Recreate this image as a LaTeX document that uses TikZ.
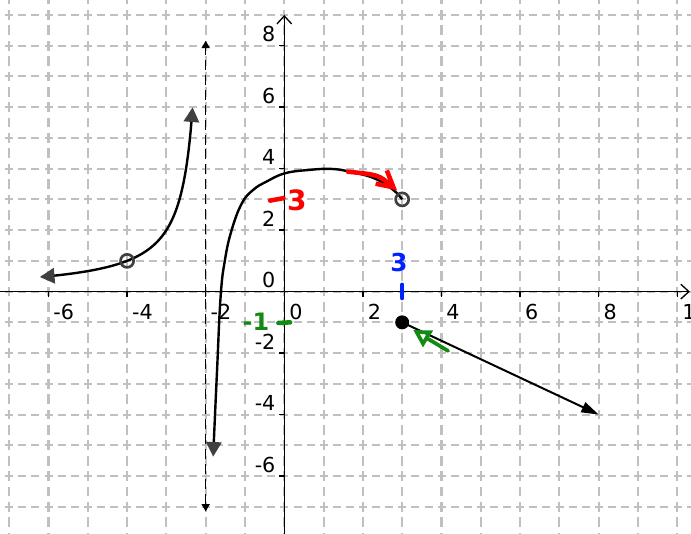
\documentclass[tikz,border=0pt]{standalone}
\usepackage{fontspec}
\setmainfont{DejaVu Sans}
\usetikzlibrary{arrows.meta}

\definecolor{gridgray}{HTML}{C0C0C0}
\definecolor{tipgray}{HTML}{404040}
\definecolor{inkred}{HTML}{FF0000}
\definecolor{inkblue}{HTML}{0022FF}
\definecolor{inkgreen}{HTML}{138A13}

\begin{document}
\begin{tikzpicture}[x=29.48pt, y=23.06pt,
		every node/.style={font=\fontsize{15.5}{18}\selectfont, inner sep=0pt},
		vgrid/.style={gridgray, line width=1.6pt, dash pattern=on 7.3pt off 4.23pt, dash phase=3.65pt},
		hgrid/.style={gridgray, line width=1.6pt, dash pattern=on 6pt off 3.83pt, dash phase=3pt},
		axis/.style={line width=1pt, -{Straight Barb[length=6pt,width=11pt]}},
		curve/.style={line width=1.8pt},
		bigtip/.tip={Triangle[length=11pt,width=11.5pt,color=tipgray]},
		ink/.style={line width=3.4pt, line cap=round, line join=round},
		hand/.style={font=\fontsize{#1}{22}\selectfont\bfseries}]
			\useasboundingbox (-7.234,-7.880) rectangle (10.349,9.486);
			\foreach \g in {-7,...,10} \draw[vgrid] (\g,-8) -- (\g,10);
			\foreach \g in {-7,...,9} \draw[hgrid] (-8,\g) -- (11,\g);
			\draw[axis] (-7.3,0) -- (10.32,0);
			\draw[axis] (0,-7.9) -- (0,9);
			\foreach \t in {-6,-4,...,10} {
				\draw[line width=1pt] (\t,0) -- (\t,-0.17);
				\node[anchor=base west] (xl\t) at (\t+0.12,-0.92) {\t};
			}
			\foreach \t in {-6,-4,...,8} {
				\draw[line width=1pt] (0,\t) -- (-0.13,\t);
				\node[anchor=base east] (yl\t) at (-0.22,\t+0.13) {\t};
			}
			\draw[line width=1.1pt, dash pattern=on 7.5pt off 3.75pt,
				{Triangle[length=5.5pt,width=6pt]}-{Triangle[length=5.5pt,width=6pt]}] (-2,-7.15) -- (-2,8.16);
			\coordinate (hole1) at (-4,1);
			\coordinate (hole2) at (3,3);
			\coordinate (dot) at (3,-1);
			\coordinate (raytip) at (8,-4);
			\draw[curve, bigtip-bigtip] plot[domain=-6.22:-2.333, samples=80, smooth] (\x,{-2/(\x+2)});
			\draw[curve, bigtip-] plot[smooth, tension=0.7] coordinates {(-1.81,-5.37) (-1.71,-2.54) (-1.62,-0.16) (-1.51,1.03) (-1.34,2.0) (-1.08,2.87) (-0.79,3.31) (-0.45,3.58) (0.02,3.85) (0.65,3.96) (1.2,3.99) (1.67,3.9) (2.3,3.68) (2.77,3.31) (3,3)};
			\draw[line width=1.5pt, -{Triangle[length=13pt,width=8pt]}] (dot) -- (raytip);
			\foreach \p in {hole1, hole2} \draw[tipgray, line width=2pt] (\p) circle (4.9pt);
			\fill (dot) circle (5.25pt);
			\coordinate (redtail) at (1.62,3.90);
			\coordinate (redtip) at (2.87,3.29);
			\coordinate (greentail) at (4.17,-1.93);
			\coordinate (greentip) at (3.28,-1.25);
			\draw[ink, inkred] (-0.36,2.96) -- (-0.02,3.04);
			\node[hand=21, inkred] (redthree) at (0.32,2.98) {3};
			\draw[ink, inkred, -{Straight Barb[length=12pt,width=13pt]}] (redtail) .. controls (2.4,3.8) .. (redtip);
			\draw[ink, inkblue] (3,0.22) -- (3,-0.21);
			\node[hand=18.5, inkblue] (bluethree) at (2.92,0.95) {3};
			\draw[ink, inkgreen] (-0.15,-1.02) -- (0.15,-1.0);
			\node[hand=18, inkgreen] (greenone) at (-0.72,-0.985) {-1};
			\draw[ink, line width=2.8pt, inkgreen, -{Triangle[open,length=13pt,width=14pt]}] (greentail) -- (greentip);
		\end{tikzpicture}
\end{document}
